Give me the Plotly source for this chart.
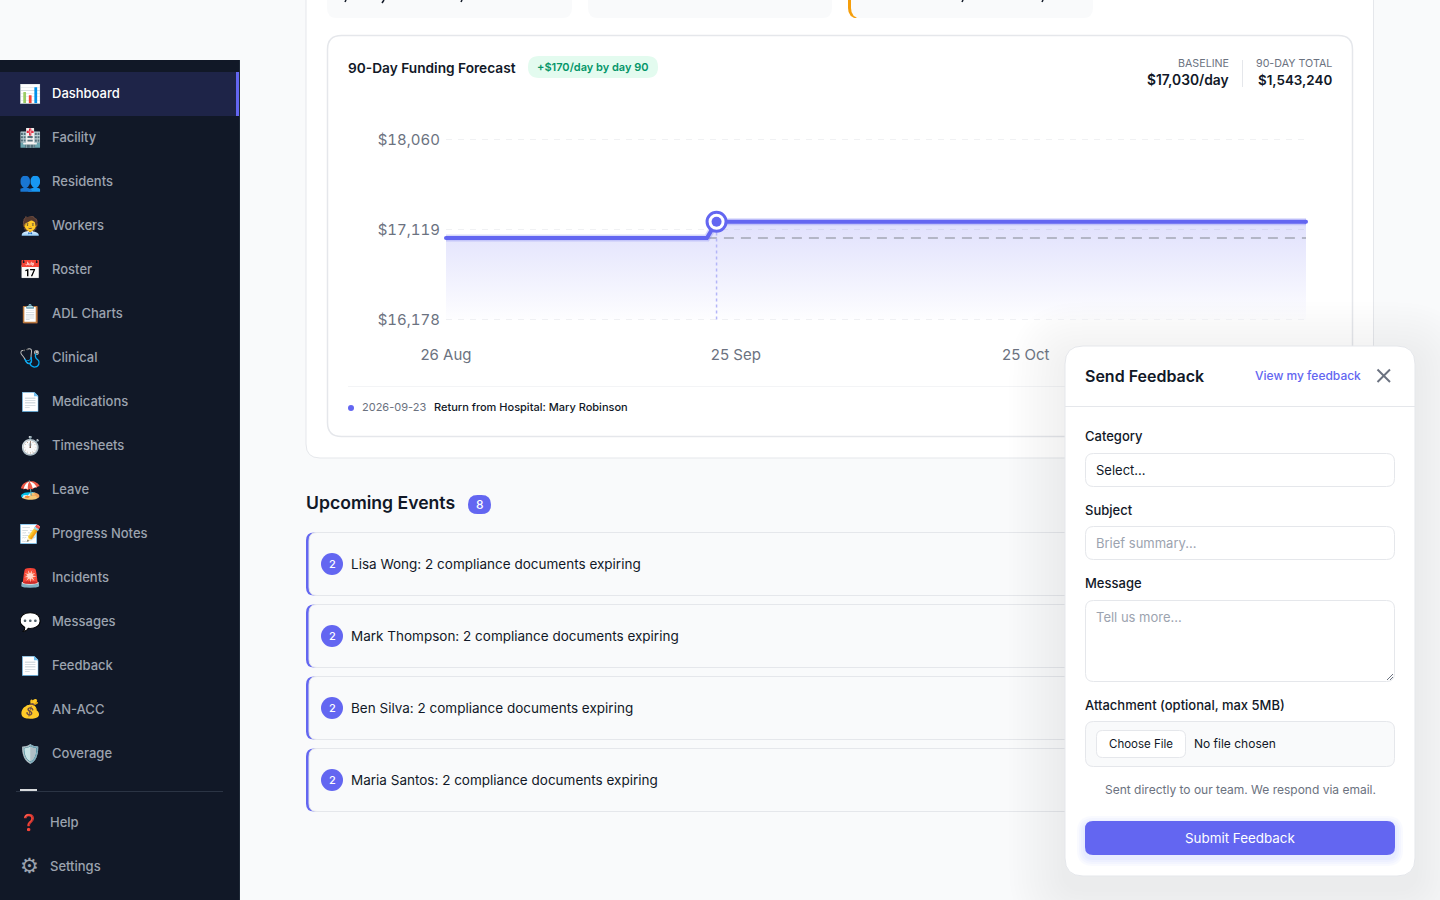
import plotly.graph_objects as go

W, H = 1440, 900

# forecast series
dates = ["2026-08-26", "2026-09-22", "2026-09-23", "2026-11-23"]
funding = [17030, 17030, 17200, 17200]
baseline = 17030
floor_value = 16178
event_date = "2026-09-23"
event_value = 17200
y_ticks = [16178, 17119, 18060]
y_tick_labels = ["$16,178", "$17,119", "$18,060"]
x_ticks = ["2026-08-26", "2026-09-25", "2026-10-25"]
x_tick_labels = ["26 Aug", "25 Sep", "25 Oct"]

nav_labels = ["Dashboard", "Facility", "Residents", "Workers", "Roster", "ADL Charts", "Clinical",
              "Medications", "Timesheets", "Leave", "Progress Notes", "Incidents", "Messages",
              "Feedback", "AN-ACC", "Coverage"]
nav_icons = ["📊", "🏥", "👥", "🧑‍💼", "📅", "📋", "🩺", "📄", "⏱️", "🏖️", "📝", "🚨", "💬", "📄", "💰", "🛡️"]
events = ["Lisa Wong: 2 compliance documents expiring", "Mark Thompson: 2 compliance documents expiring",
          "Ben Silva: 2 compliance documents expiring", "Maria Santos: 2 compliance documents expiring"]

INDIGO = "#6366f1"
INK = "#111827"
GREY = "#6b7280"
LINE = "#e5e7eb"
PAGE = "#f9fafb"
FONT = "Inter"


def rrect(x0, y0, x1, y1, r):
    # rounded box as a path, plotly does not scale arcs so use Q
    p = [
        f"M {x0 + r} {y0}", f"L {x1 - r} {y0}",
        f"Q {x1} {y0} {x1} {y0 + r}", f"L {x1} {y1 - r}",
        f"Q {x1} {y1} {x1 - r} {y1}", f"L {x0 + r} {y1}",
        f"Q {x0} {y1} {x0} {y1 - r}", f"L {x0} {y0 + r}",
        f"Q {x0} {y0} {x0 + r} {y0}", "Z",
    ]
    return " ".join(p)


shapes = []
notes = []


def box(x0, y0, x1, y1, r=0, fill="white", line=None, lw=1):
    shapes.append(dict(type="path", path=rrect(x0, y0, x1, y1, r), xref="x", yref="y",
                       fillcolor=fill, line=dict(color=line or "rgba(0,0,0,0)", width=lw if line else 0),
                       layer="below"))


def seg(x0, y0, x1, y1, color=LINE, lw=1):
    shapes.append(dict(type="line", x0=x0, y0=y0, x1=x1, y1=y1, xref="x", yref="y",
                       line=dict(color=color, width=lw), layer="below"))


def dot(cx, cy, r, color):
    shapes.append(dict(type="circle", x0=cx - r, y0=cy - r, x1=cx + r, y1=cy + r,
                       xref="x", yref="y", fillcolor=color, line=dict(width=0), layer="below"))


def label(x, y, text, size=14, color=INK, weight=400, anchor="left"):
    notes.append(dict(x=x, y=y, xref="x", yref="y", text=text, showarrow=False,
                      xanchor=anchor, yanchor="middle", borderpad=0, borderwidth=0,
                      font=dict(family=FONT, size=size, color=color, weight=weight)))


# sidebar
box(0, 60, 240, 900, fill="#111827")
seg(239.5, 60, 239.5, 900, "#1f2937", 1)
box(0, 72, 239, 116, fill="#1e2448")
box(236, 72, 239, 116, fill=INDIGO)
for i, (name, icon) in enumerate(zip(nav_labels, nav_icons)):
    y = 93 + i * 44
    label(30, y, icon, size=18, color="white", anchor="center")
    label(52, y, name, size=13, color="white" if i == 0 else "#9ca3af", weight=500)
box(20, 789, 37, 791, fill="#d8dadd")
seg(16, 791.5, 223, 791.5, "#2b3444", 1)
label(29, 821.5, "❓", size=16, color="#e00000", anchor="center")
label(50, 821.5, "Help", size=13, color="#9ca3af", weight=500)
label(29, 865.5, "⚙", size=21, color="#9ca3af", anchor="center")
label(50, 865.5, "Settings", size=13, color="#9ca3af", weight=500)

# outer card and the stat cards cut by the scroll position
box(306, -30, 1373.5, 458, 14, "white", LINE)
box(327, -30, 572, 18, 10, PAGE)
box(588, -30, 832, 18, 10, PAGE)
box(848, -30, 862, 18, 10, "#f59e0b")
box(851, -30, 1093, 18, 10, PAGE)
# only the descenders of the stat values show at the top edge
for x0, x1, y1 in [(346, 345, 2), (384, 382, 3), (462, 461, 2), (963, 962, 2), (1043, 1042, 2)]:
    seg(x0, 0, x1, y1, INK, 1.5)

# chart card
box(327.5, 35.5, 1352.5, 436.5, 14, "white", LINE, 1.5)
label(348, 68, "90-Day Funding Forecast", size=13.7, weight=600)
box(528, 56, 658, 78, 11, "#e3fbef")
label(592.5, 67, "+$170/day by day 90", size=11, color="#059669", weight=600, anchor="center")
label(1229, 63, "BASELINE", size=10.7, color=GREY, anchor="right")
label(1229, 80, "$17,030/day", size=13.8, weight=600, anchor="right")
seg(1242.5, 60, 1242.5, 87, LINE)
label(1332, 63, "90-DAY TOTAL", size=10.7, color=GREY, anchor="right")
label(1331.5, 80, "$1,543,240", size=13.4, weight=600, anchor="right")
seg(348, 386.5, 1332, 386.5, "#f3f4f6")
dot(351, 408, 3, INDIGO)
label(362, 407, "2026-09-23", size=11, color=GREY)
label(434, 407, "Return from Hospital: Mary Robinson", size=11, weight=500)

# upcoming events
label(306, 502.5, "Upcoming Events", size=17.6, weight=600)
box(468, 495, 491, 514, 9.5, INDIGO)
label(479.5, 504.5, "8", size=12, color="white", weight=500, anchor="center")
for i, text in enumerate(events):
    top = 532.5 + i * 72
    box(306, top, 322, top + 63, 8, INDIGO)
    box(309, top, 1374, top + 63, 8, PAGE, LINE)
    dot(332, top + 31.5, 11, INDIGO)
    label(332, top + 31.5, "2", size=11, color="white", weight=500, anchor="center")
    label(351, top + 31.5, text, size=13.5)

# feedback panel, stacked boxes fake the soft shadow
for grow in range(56, 0, -4):
    box(1065 - grow, 346 - grow + 12, 1415 + grow, 876 + grow + 12, 18 + grow, "rgba(17,24,39,0.005)")
box(1065, 346, 1415, 876, 18, "white", LINE)
label(1085, 376, "Send Feedback", size=16, weight=600)
label(1255, 375.5, "View my feedback", size=12, color=INDIGO, weight=500)
seg(1377.5, 369.5, 1390, 382, GREY, 2)
seg(1390, 369.5, 1377.5, 382, GREY, 2)
seg(1065, 406.5, 1415, 406.5, LINE)
label(1085, 436, "Category", size=13, weight=500)
box(1085.5, 453.5, 1394.5, 486.5, 8, "white", LINE)
label(1096, 470, "Select...", size=13)
label(1085, 510, "Subject", size=13, weight=500)
box(1085.5, 526.5, 1394.5, 559.5, 8, "white", LINE)
label(1096, 543, "Brief summary...", size=13, color="#9ca3af")
label(1085, 583, "Message", size=13, weight=500)
box(1085.5, 600.5, 1394.5, 681.5, 8, "white", LINE)
label(1096, 617, "Tell us more...", size=13, color="#9ca3af")
seg(1387, 680, 1393, 674, "#6b7280")
seg(1390, 680, 1393, 677, "#6b7280")
label(1085, 705, "Attachment (optional, max 5MB)", size=13, weight=500)
box(1085.5, 721.5, 1394.5, 766.5, 8, PAGE, LINE)
box(1096.5, 730.5, 1185.5, 757.5, 6, "white", LINE)
label(1141, 743.5, "Choose File", size=11.5, anchor="center")
label(1194, 743.5, "No file chosen", size=12)
label(1240, 789.5, "Sent directly to our team. We respond via email.", size=12, color=GREY, anchor="center")
for grow in range(8, 0, -2):
    box(1085 - grow, 821 - grow + 3, 1395 + grow, 855 + grow + 3, 8 + grow, "rgba(99,102,241,0.035)")
box(1085, 821, 1395, 855, 8, INDIGO)
label(1240, 838, "Submit Feedback", size=13.4, color="white", anchor="center")

fig = go.Figure()
# the chart lives on x2/y2, xy is only the page drawn in pixels underneath it
chart = dict(xaxis="x2", yaxis="y2", hoverinfo="skip", showlegend=False, cliponaxis=False)
# floor line first so the area can fill down to it
fig.add_trace(go.Scatter(x=[dates[0], dates[-1]], y=[floor_value, floor_value], mode="lines",
                         line=dict(width=0), **chart))
fig.add_trace(go.Scatter(x=dates, y=funding, mode="lines", line=dict(width=0), fill="tonexty",
                         fillgradient=dict(type="vertical",
                                           colorscale=[[0, "rgba(99,102,241,0.01)"], [1, "rgba(99,102,241,0.2)"]]),
                         **chart))
fig.add_trace(go.Scatter(x=[dates[1], dates[-1]], y=[baseline, baseline], mode="lines",
                         line=dict(color="#a3a6b4", width=1.5, dash="10px 7px"), **chart))
fig.add_trace(go.Scatter(x=[event_date, event_date], y=[floor_value, event_value], mode="lines",
                         line=dict(color="#b4b6f8", width=1.5, dash="3px 3px"), **chart))
fig.add_trace(go.Scatter(x=dates, y=funding, mode="lines", line=dict(color="rgba(99,102,241,0.25)", width=7),
                         **chart))
fig.add_trace(go.Scatter(x=dates, y=funding, mode="lines", line=dict(color=INDIGO, width=4), **chart))
# lines get clipped at the axis ends, round them off with markers instead
fig.add_trace(go.Scatter(x=[dates[0], dates[-1]], y=[funding[0], funding[-1]], mode="markers",
                         marker=dict(size=4, color=INDIGO), **chart))
fig.add_trace(go.Scatter(x=[event_date], y=[event_value], mode="markers",
                         marker=dict(size=19, color="white", line=dict(color=INDIGO, width=3)), **chart))
fig.add_trace(go.Scatter(x=[event_date], y=[event_value], mode="markers",
                         marker=dict(size=10, color=INDIGO), **chart))

# grid lines on the very edge of an axis get dropped, so give y a few spare pixels each side
units_per_px = (y_ticks[-1] - y_ticks[0]) / 180
spare = 4

fig.update_layout(
    width=W, height=H, margin=dict(l=0, r=0, t=0, b=0, autoexpand=False), autosize=False,
    paper_bgcolor=PAGE, plot_bgcolor="rgba(0,0,0,0)", showlegend=False,
    shapes=shapes, annotations=notes, font=dict(family=FONT),
    xaxis=dict(domain=[0, 1], range=[0, W], visible=False),
    yaxis=dict(domain=[0, 1], range=[H, 0], visible=False),
    xaxis2=dict(domain=[446 / W, 1306 / W], anchor="y2", type="date", range=[dates[0], dates[-1]], tickvals=x_ticks,
                ticktext=x_tick_labels, showgrid=False, zeroline=False, showline=False, ticks="",
                tickfont=dict(family=FONT, size=15, color=GREY), ticklabelstandoff=24 - spare),
    yaxis2=dict(domain=[1 - (319.5 + spare) / H, 1 - (139.5 - spare) / H], anchor="x2",
                range=[y_ticks[0] - spare * units_per_px, y_ticks[-1] + spare * units_per_px], tickvals=y_ticks,
                ticktext=y_tick_labels, showgrid=True, gridcolor="#f0f1f3", griddash="6px 6px", gridwidth=1.5,
                zeroline=False, showline=False, ticks="",
                tickfont=dict(family=FONT, size=15, color=GREY), ticklabelstandoff=5),
)

# plotly has no option for tabular digits, set them once the plot is drawn
tweak = """
document.body.style.margin = '0';
document.body.style.overflow = 'hidden';
function tweakPlot() {
    document.querySelectorAll('.y2tick text').forEach(function (t) { t.style.fontVariantNumeric = 'tabular-nums'; });
}
tweakPlot();
document.getElementById('{plot_id}').on('plotly_afterplot', tweakPlot);
setTimeout(tweakPlot, 0);
"""
fig.write_html("out.html", config=dict(displayModeBar=False, staticPlot=True), post_script=tweak)
